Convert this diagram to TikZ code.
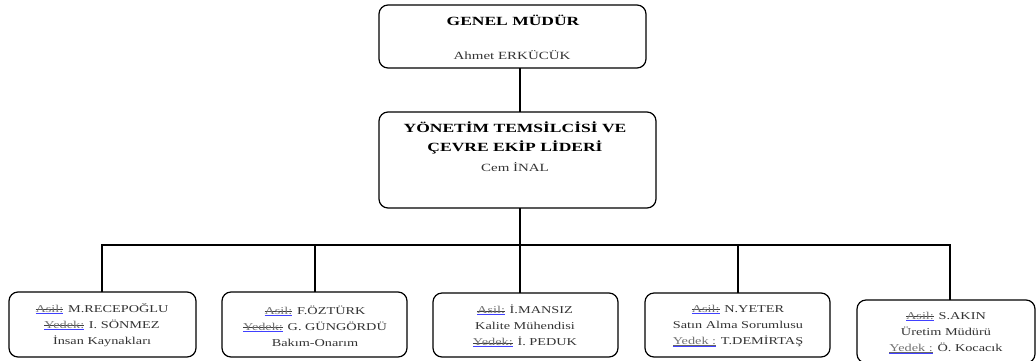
\documentclass[tikz,border=0pt]{standalone}
\usepackage{fontspec}
\setmainfont{Liberation Serif}
\usepackage{xcolor}
\newlength\stw
\newcommand\strk[1]{\settowidth\stw{#1}\rlap{\color{black!75}\rule[2.6pt]{\stw}{0.5pt}}\rlap{\color{blue!75}\rule[-1.4pt]{\stw}{0.9pt}}\textcolor{black!55}{#1}}
\newcommand\undl[1]{\settowidth\stw{#1}\rlap{\color{black!60}\rule[-1.0pt]{\stw}{0.5pt}}\rlap{\color{blue!75}\rule[-2.2pt]{\stw}{0.9pt}}\textcolor{black!55}{#1}}
\tikzset{
  box/.style={draw, line width=1.2pt, rounded corners=9pt},
  conn/.style={line width=1.2pt},
  head/.style={font=\fontsize{12.5}{19}\selectfont\bfseries, align=center, inner sep=0pt, xscale=1.4, transform shape},
  txt/.style={font=\fontsize{10.5}{16}\selectfont, align=center, inner sep=0pt, text=black!80, xscale=1.36, transform shape},
}
\begin{document}
\begin{tikzpicture}[x=1pt,y=-1pt]
\useasboundingbox (0,0) rectangle (1036,360);
% top boxes
\draw[box] (379,5) rectangle (646,68);
\coordinate (gmB) at (520,68);
\node[head] (gmT) at (513,20) {GENEL MÜDÜR};
\node[txt,font=\fontsize{11}{16}\selectfont] (gmN) at (512,55) {Ahmet ERKÜCÜK};
\draw[box] (379,112) rectangle (656,208);
\coordinate (ytT) at (520,112);
\coordinate (ytB) at (520,208);
\node[head, anchor=north] (ytH) at (515,122) {YÖNETİM TEMSİLCİSİ VE\\ÇEVRE EKİP LİDERİ};
\node[txt,font=\fontsize{11}{16}\selectfont] (ytN) at (515,167) {Cem İNAL};
% bottom boxes
\draw[box] (9,292) rectangle (196,357);
\draw[box] (222,292) rectangle (407,357);
\draw[box] (433,293) rectangle (618,357);
\draw[box] (645,293) rectangle (830,357);
\draw[box] (857,300) rectangle (1035,363);
\coordinate (b1) at (102,292);
\coordinate (b2) at (315,292);
\coordinate (b3) at (520,293);
\coordinate (b4) at (738,293);
\coordinate (b5) at (950,300);
\coordinate (bar) at (520,245);
\node[txt] (t1) at (102,325) {\strk{Asil:} M.RECEPOĞLU\\\strk{Yedek:} I. SÖNMEZ\\İnsan Kaynakları};
\node[txt] (t2) at (315,326) {\strk{Asil:} F.ÖZTÜRK\\\strk{Yedek:} G. GÜNGÖRDÜ\\Bakım-Onarım};
\node[txt] (t3) at (525,326) {\strk{Asil:} İ.MANSIZ\\Kalite Mühendisi\\\strk{Yedek:} İ. PEDUK};
\node[txt] (t4) at (738,326) {\strk{Asil:} N.YETER\\Satın Alma Sorumlusu\\\undl{Yedek :} T.DEMİRTAŞ};
\node[txt] (t5) at (946,333) {\strk{Asil:} S.AKIN\\Üretim Müdürü\\\undl{Yedek :} Ö. Kocacık};
% connectors
\draw[conn] (gmB) -- (ytT);
\draw[conn] (ytB) -- (bar);
\draw[conn] (b1) -- (b1 |- bar) -- (b5 |- bar) -- (b5);
\draw[conn] (b2) -- (b2 |- bar);
\draw[conn] (b3) -- (bar);
\draw[conn] (b4) -- (b4 |- bar);
\end{tikzpicture}
\end{document}
